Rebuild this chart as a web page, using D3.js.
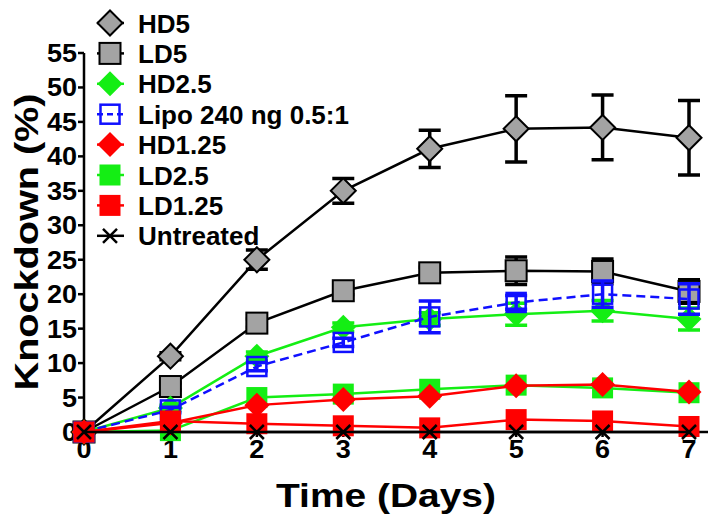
<!DOCTYPE html>
<html><head><meta charset="utf-8">
<script src="https://cdn.jsdelivr.net/npm/d3@7"></script>
<style>body{margin:0;background:#fff}svg{display:block}</style>
</head><body>
<svg id="c" width="718" height="525"></svg>
<script>
// ---- data ----
const days = [0, 1, 2, 3, 4, 5, 6, 7];
const yTickValues = [0, 5, 10, 15, 20, 25, 30, 35, 40, 45, 50, 55];
const seriesNames = ["HD5", "LD5", "HD2.5", "Lipo 240 ng 0.5:1", "HD1.25", "LD2.5", "LD1.25", "Untreated"];
const hd5      = [0, 11.0, 25.0, 35.0, 41.1, 44.0, 44.2, 42.7];
const hd5Err   = [0, 0.5, 1.4, 1.8, 2.7, 4.8, 4.7, 5.4];
const ld5      = [0, 6.6, 15.8, 20.5, 23.1, 23.4, 23.3, 20.4];
const ld5Err   = [0, 0.5, 0.6, 0.6, 0.8, 2.0, 1.8, 1.7];
const hd25     = [0, 3.5, 11.0, 15.2, 16.4, 17.1, 17.6, 16.4];
const hd25Err  = [0, 0.4, 0.6, 0.6, 0.9, 1.6, 1.5, 1.6];
const lipo     = [0, 3.2, 9.5, 13.0, 16.7, 18.8, 20.0, 19.3];
const lipoErr  = [0, 0.4, 0.6, 0.6, 2.3, 1.0, 1.9, 2.2];
const hd125    = [0, 1.3, 3.9, 4.7, 5.2, 6.7, 6.9, 5.8];
const ld25     = [0, 0.2, 5.0, 5.5, 6.2, 6.8, 6.4, 5.7];
const ld125    = [0, 1.6, 1.2, 0.9, 0.6, 1.8, 1.6, 0.8];
const untreated = [0, 0, 0, 0, 0, 0, 0, 0];

const GRAY = "#a3a3a3", GREEN = "#14ee14", RED = "#ff0000", BLUE = "#1010ff";
const series = [
  {name: seriesNames[0], vals: hd5, err: hd5Err, shape: "diamond", fill: GRAY, stroke: "#000", line: "#000", errColor: "#000"},
  {name: seriesNames[1], vals: ld5, err: ld5Err, shape: "square", fill: GRAY, stroke: "#000", line: "#000", errColor: "#000"},
  {name: seriesNames[2], vals: hd25, err: hd25Err, shape: "diamond", fill: GREEN, stroke: "none", line: GREEN, errColor: GREEN},
  {name: seriesNames[3], vals: lipo, err: lipoErr, shape: "open", fill: "none", stroke: BLUE, line: BLUE, errColor: BLUE, dash: "9,5"},
  {name: seriesNames[4], vals: hd125, err: null, shape: "diamond", fill: RED, stroke: "none", line: RED},
  {name: seriesNames[5], vals: ld25, err: null, shape: "square", fill: GREEN, stroke: "none", line: GREEN},
  {name: seriesNames[6], vals: ld125, err: null, shape: "square", fill: RED, stroke: "none", line: RED},
  {name: seriesNames[7], vals: untreated, err: null, shape: "x", fill: "none", stroke: "#000", line: "#000"}
];
const drawOrder = [0, 1, 2, 5, 3, 4, 6, 7];

// ---- layout ----
const svg = d3.select("#c");
const FONT = "'Liberation Sans', Arial, sans-serif";
const x = d3.scaleLinear().domain([0, 7]).range([84, 689]);
const y = d3.scaleLinear().domain([0, 55]).range([432, 53]);

function marker(g, s, cx, cy) {
  if (s.shape === "diamond") {
    const r = 12.5;
    g.append("path").attr("d", `M${cx},${cy - r}L${cx + r},${cy}L${cx},${cy + r}L${cx - r},${cy}Z`)
      .attr("fill", s.fill).attr("stroke", s.stroke).attr("stroke-width", 2);
  } else if (s.shape === "square") {
    const h = 10.5;
    g.append("rect").attr("x", cx - h).attr("y", cy - h).attr("width", 2 * h).attr("height", 2 * h)
      .attr("fill", s.fill).attr("stroke", s.stroke).attr("stroke-width", 2);
  } else if (s.shape === "open") {
    const h = 9.5;
    g.append("rect").attr("x", cx - h).attr("y", cy - h).attr("width", 2 * h).attr("height", 2 * h)
      .attr("fill", "none").attr("stroke", s.stroke).attr("stroke-width", 2.5);
  } else if (s.shape === "x") {
    const r = 7;
    g.append("path").attr("d", `M${cx - r},${cy - r}L${cx + r},${cy + r}M${cx - r},${cy + r}L${cx + r},${cy - r}`)
      .attr("stroke", "#000").attr("stroke-width", 2.5).attr("fill", "none");
  }
}

// ---- axes ----
const axG = svg.append("g");
axG.append("line").attr("x1", x(0)).attr("x2", x(0)).attr("y1", y(0)).attr("y2", y(55))
  .attr("stroke", "#000").attr("stroke-width", 2.5);
yTickValues.forEach(v => {
  axG.append("line").attr("x1", x(0) - 6).attr("x2", x(0)).attr("y1", y(v)).attr("y2", y(v))
    .attr("stroke", "#000").attr("stroke-width", 2.5);
  axG.append("text").attr("transform", `translate(77,${y(v) + 9}) scale(1.08,1)`)
    .attr("text-anchor", "end").attr("font-family", FONT).attr("font-weight", "bold")
    .attr("font-size", 25).text(v);
});
axG.append("line").attr("x1", x(0) - 1).attr("x2", 708).attr("y1", y(0)).attr("y2", y(0))
  .attr("stroke", "#000").attr("stroke-width", 2.5);
days.forEach(d => {
  axG.append("line").attr("x1", x(d)).attr("x2", x(d)).attr("y1", y(0)).attr("y2", y(0) + 5)
    .attr("stroke", "#000").attr("stroke-width", 2.5);
  axG.append("text").attr("transform", `translate(${x(d)},${458}) scale(1.08,1)`)
    .attr("text-anchor", "middle").attr("font-family", FONT).attr("font-weight", "bold")
    .attr("font-size", 25).text(d);
});
svg.append("text").attr("transform", `translate(386,507) scale(1.18,1)`)
  .attr("text-anchor", "middle").attr("font-family", FONT).attr("font-weight", "bold")
  .attr("font-size", 33).text("Time (Days)");
svg.append("text").attr("transform", `translate(38,242) rotate(-90) scale(1.2,1)`)
  .attr("text-anchor", "middle").attr("font-family", FONT).attr("font-weight", "bold")
  .attr("font-size", 33).text("Knockdown (%)");

// ---- data ----
const plot = svg.append("g");
const lineGen = d3.line().x((d, i) => x(days[i])).y(d => y(d));
drawOrder.forEach(k => {
  const s = series[k];
  const g = plot.append("g");
  g.append("path").attr("d", lineGen(s.vals)).attr("fill", "none").attr("stroke", s.line)
    .attr("stroke-width", 2.5).attr("stroke-dasharray", s.dash || null);
  if (s.err) {
    s.vals.forEach((v, i) => {
      const e = s.err[i];
      if (!e) return;
      const cx = x(days[i]);
      g.append("path").attr("d", `M${cx},${y(v + e)}L${cx},${y(v - e)}M${cx - 11},${y(v + e)}L${cx + 11},${y(v + e)}M${cx - 11},${y(v - e)}L${cx + 11},${y(v - e)}`)
        .attr("stroke", s.errColor).attr("stroke-width", 3.5).attr("fill", "none");
    });
  }
  s.vals.forEach((v, i) => marker(g, s, x(days[i]), y(v)));
});

// ---- legend ----
const leg = svg.append("g");
series.forEach((s, i) => {
  const cy = 23 + i * 30.4;
  leg.append("line").attr("x1", 97).attr("x2", 124).attr("y1", cy).attr("y2", cy)
    .attr("stroke", s.line).attr("stroke-width", 2.5).attr("stroke-dasharray", s.dash ? "6,4" : null);
  marker(leg, s, 110, cy);
  leg.append("text").attr("x", 138).attr("y", cy + 9.5).attr("font-family", FONT)
    .attr("font-weight", "bold").attr("font-size", 26).text(s.name);
});
</script>
</body></html>
